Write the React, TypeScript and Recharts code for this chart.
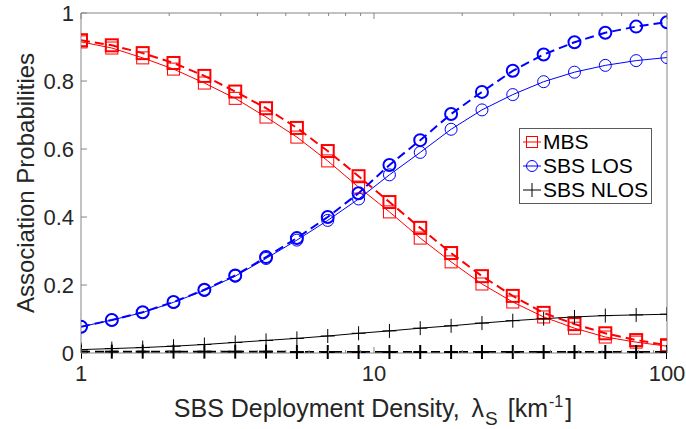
import { LineChart, Line, XAxis, YAxis, Legend } from 'recharts';

// density values, logspace(0, 2, 20)
const LAMBDA = [1, 1.274, 1.624, 2.069, 2.637, 3.36, 4.281, 5.456, 6.952, 8.859, 11.29, 14.38, 18.33, 23.36, 29.76, 37.93, 48.33, 61.58, 78.48, 100];

const MBS_SOLID = [0.915, 0.897, 0.868, 0.835, 0.794, 0.749, 0.694, 0.635, 0.565, 0.488, 0.415, 0.338, 0.268, 0.203, 0.15, 0.106, 0.073, 0.047, 0.032, 0.02];
const MBS_DASHED = [0.92, 0.905, 0.882, 0.853, 0.815, 0.769, 0.72, 0.662, 0.594, 0.52, 0.444, 0.368, 0.294, 0.226, 0.168, 0.118, 0.085, 0.058, 0.038, 0.023];
const LOS_SOLID = [0.077, 0.097, 0.119, 0.149, 0.184, 0.226, 0.278, 0.332, 0.39, 0.453, 0.524, 0.59, 0.658, 0.715, 0.76, 0.798, 0.826, 0.846, 0.86, 0.869];
const LOS_DASHED = [0.077, 0.097, 0.12, 0.15, 0.186, 0.228, 0.282, 0.338, 0.4, 0.47, 0.553, 0.626, 0.703, 0.768, 0.83, 0.878, 0.914, 0.942, 0.96, 0.973];
const NLOS_SOLID = [0.01, 0.013, 0.016, 0.02, 0.025, 0.031, 0.037, 0.043, 0.05, 0.058, 0.065, 0.073, 0.08, 0.088, 0.095, 0.101, 0.106, 0.11, 0.112, 0.114];
const NLOS_DASHED = [0.004, 0.004, 0.004, 0.004, 0.004, 0.004, 0.004, 0.003, 0.003, 0.003, 0.003, 0.003, 0.003, 0.003, 0.003, 0.003, 0.003, 0.003, 0.003, 0.003];

const X_TICKS = [1, 2, 3, 4, 5, 6, 7, 8, 9, 10, 20, 30, 40, 50, 60, 70, 80, 90, 100];
const X_LABELED = [1, 10, 100];
const Y_TICKS = [0, 0.2, 0.4, 0.6, 0.8, 1];

const data = LAMBDA.map((x, i) => ({
  x,
  mbsSolid: MBS_SOLID[i],
  mbsDashed: MBS_DASHED[i],
  losSolid: LOS_SOLID[i],
  losDashed: LOS_DASHED[i],
  nlosSolid: NLOS_SOLID[i],
  nlosDashed: NLOS_DASHED[i],
}));

const FONT = '"Liberation Sans", Arial, Helvetica, sans-serif';
const AXIS = '#858585';
const TXT = '#262626';
const RED = '#ff0000';
const BLUE = '#0000ff';
const BLACK = '#000000';

const square = (color: string, w: number) => (p: any) => {
  if (p.cx == null || p.cy == null) return <g key={p.key} />;
  return <rect key={p.key} x={p.cx - 6} y={p.cy - 6} width={12} height={12} fill="none" stroke={color} strokeWidth={w} />;
};
const circle = (color: string, w: number) => (p: any) => {
  if (p.cx == null || p.cy == null) return <g key={p.key} />;
  return <circle key={p.key} cx={p.cx} cy={p.cy} r={6} fill="none" stroke={color} strokeWidth={w} />;
};
const plus = (color: string, w: number) => (p: any) => {
  if (p.cx == null || p.cy == null) return <g key={p.key} />;
  return (
    <g key={p.key} stroke={color} strokeWidth={w}>
      <line x1={p.cx - 7} x2={p.cx + 7} y1={p.cy} y2={p.cy} />
      <line x1={p.cx} x2={p.cx} y1={p.cy - 7} y2={p.cy + 7} />
    </g>
  );
};

function BottomTick({ x, y, payload }: any) {
  const major = X_LABELED.includes(payload.value);
  return (
    <g>
      <line x1={x} x2={x} y1={y} y2={y - (major ? 6 : 3)} stroke={AXIS} />
      {major && (
        <text x={x} y={y + 28} textAnchor="middle" fontSize={22} fill={TXT} fontFamily={FONT}>
          {payload.value}
        </text>
      )}
    </g>
  );
}

function TopTick({ x, y, payload }: any) {
  const major = X_LABELED.includes(payload.value);
  return <line x1={x} x2={x} y1={y} y2={y + (major ? 6 : 3)} stroke={AXIS} />;
}

function LeftTick({ x, y, payload }: any) {
  return (
    <g>
      <line x1={x} x2={x + 6} y1={y} y2={y} stroke={AXIS} />
      <text x={x - 7} y={y + 8} textAnchor="end" fontSize={22} fill={TXT} fontFamily={FONT}>
        {payload.value}
      </text>
    </g>
  );
}

function RightTick({ x, y }: any) {
  return <line x1={x} x2={x - 6} y1={y} y2={y} stroke={AXIS} />;
}

function XLabel({ viewBox }: any) {
  const vb = viewBox || { x: 81, y: 353, width: 586, height: 75 };
  return (
    <text x={vb.x + vb.width / 2 - 1} y={vb.y + 64} textAnchor="middle" fontSize={25} fill={TXT} fontFamily={FONT}>
      {'SBS Deployment Density, '}
      <tspan dx={5}>{'λ'}</tspan>
      <tspan dy={8} dx={1} fontSize={19}>S</tspan>
      <tspan dy={-8} dx={3}>{' [km'}</tspan>
      <tspan dy={-10} dx={1} fontSize={16}>-1</tspan>
      <tspan dy={10} dx={2}>]</tspan>
    </text>
  );
}

function YLabel({ viewBox }: any) {
  const vb = viewBox || { x: 0, y: 13, width: 81, height: 340 };
  const cx = vb.x + 34;
  const cy = vb.y + vb.height / 2;
  return (
    <text x={cx} y={cy} transform={`rotate(-90 ${cx} ${cy})`} textAnchor="middle" fontSize={24} fill={TXT} fontFamily={FONT}>
      Association Probabilities
    </text>
  );
}

const LEGEND = [
  { name: 'MBS', color: RED, kind: 'square' },
  { name: 'SBS LOS', color: BLUE, kind: 'circle' },
  { name: 'SBS NLOS', color: BLACK, kind: 'plus' },
];

function LegendBox() {
  return (
    <div style={{ border: '1px solid #5a5a5a', background: '#fff', width: 131, padding: '1px 0', fontFamily: FONT, fontSize: 21, color: '#000' }}>
      {LEGEND.map((e) => (
        <div key={e.name} style={{ display: 'flex', alignItems: 'center', height: 24, lineHeight: '24px' }}>
          <svg width={23} height={24} style={{ flex: 'none' }}>
            <line x1={3} x2={21} y1={12} y2={12} stroke={e.color} strokeWidth={1} />
            {e.kind === 'square' && <rect x={6.5} y={6.5} width={11} height={11} fill="none" stroke={e.color} />}
            {e.kind === 'circle' && <circle cx={12} cy={12} r={5.5} fill="none" stroke={e.color} />}
            {e.kind === 'plus' && <line x1={12} x2={12} y1={5} y2={19} stroke={e.color} />}
          </svg>
          <span>{e.name}</span>
        </div>
      ))}
    </div>
  );
}

export default function App() {
  return (
    <div style={{ position: 'absolute', left: 0, top: 0, background: '#fff' }}>
      <LineChart width={686} height={429} data={data} margin={{ top: 12, right: 18, left: 0, bottom: 1 }}>
        <XAxis
          dataKey="x"
          type="number"
          scale="log"
          domain={[1, 100]}
          ticks={X_TICKS}
          interval={0}
          allowDataOverflow
          height={75}
          tickSize={0}
          tickMargin={0}
          tickLine={false}
          axisLine={{ stroke: AXIS }}
          tick={<BottomTick />}
          label={<XLabel />}
        />
        <XAxis
          xAxisId="top"
          orientation="top"
          dataKey="x"
          type="number"
          scale="log"
          domain={[1, 100]}
          ticks={X_TICKS}
          interval={0}
          allowDataOverflow
          height={1}
          tickSize={0}
          tickMargin={0}
          tickLine={false}
          axisLine={{ stroke: AXIS }}
          tick={<TopTick />}
        />
        <YAxis
          type="number"
          domain={[0, 1]}
          ticks={Y_TICKS}
          interval={0}
          width={81}
          tickSize={0}
          tickMargin={0}
          tickLine={false}
          axisLine={{ stroke: AXIS }}
          tick={<LeftTick />}
          label={<YLabel />}
        />
        <YAxis
          yAxisId="right"
          orientation="right"
          type="number"
          domain={[0, 1]}
          ticks={Y_TICKS}
          interval={0}
          width={1}
          tickSize={0}
          tickMargin={0}
          tickLine={false}
          axisLine={{ stroke: AXIS }}
          tick={<RightTick />}
        />
        <Line dataKey="mbsSolid" stroke={RED} strokeWidth={1} dot={square(RED, 1)} isAnimationActive={false} />
        <Line dataKey="mbsDashed" stroke={RED} strokeWidth={2} strokeDasharray="9 5" dot={square(RED, 2)} isAnimationActive={false} />
        <Line dataKey="losSolid" stroke={BLUE} strokeWidth={1} dot={circle(BLUE, 1)} isAnimationActive={false} />
        <Line dataKey="losDashed" stroke={BLUE} strokeWidth={2} strokeDasharray="9 5" dot={circle(BLUE, 2)} isAnimationActive={false} />
        <Line dataKey="nlosSolid" stroke={BLACK} strokeWidth={1} dot={plus(BLACK, 1)} isAnimationActive={false} />
        <Line dataKey="nlosDashed" stroke={BLACK} strokeWidth={2} strokeDasharray="9 5" dot={plus(BLACK, 2)} isAnimationActive={false} />
        <Legend
          layout="vertical"
          align="center"
          verticalAlign="middle"
          content={<LegendBox />}
          wrapperStyle={{ left: 519, top: 128, width: 'auto', height: 'auto' }}
        />
      </LineChart>
    </div>
  );
}
